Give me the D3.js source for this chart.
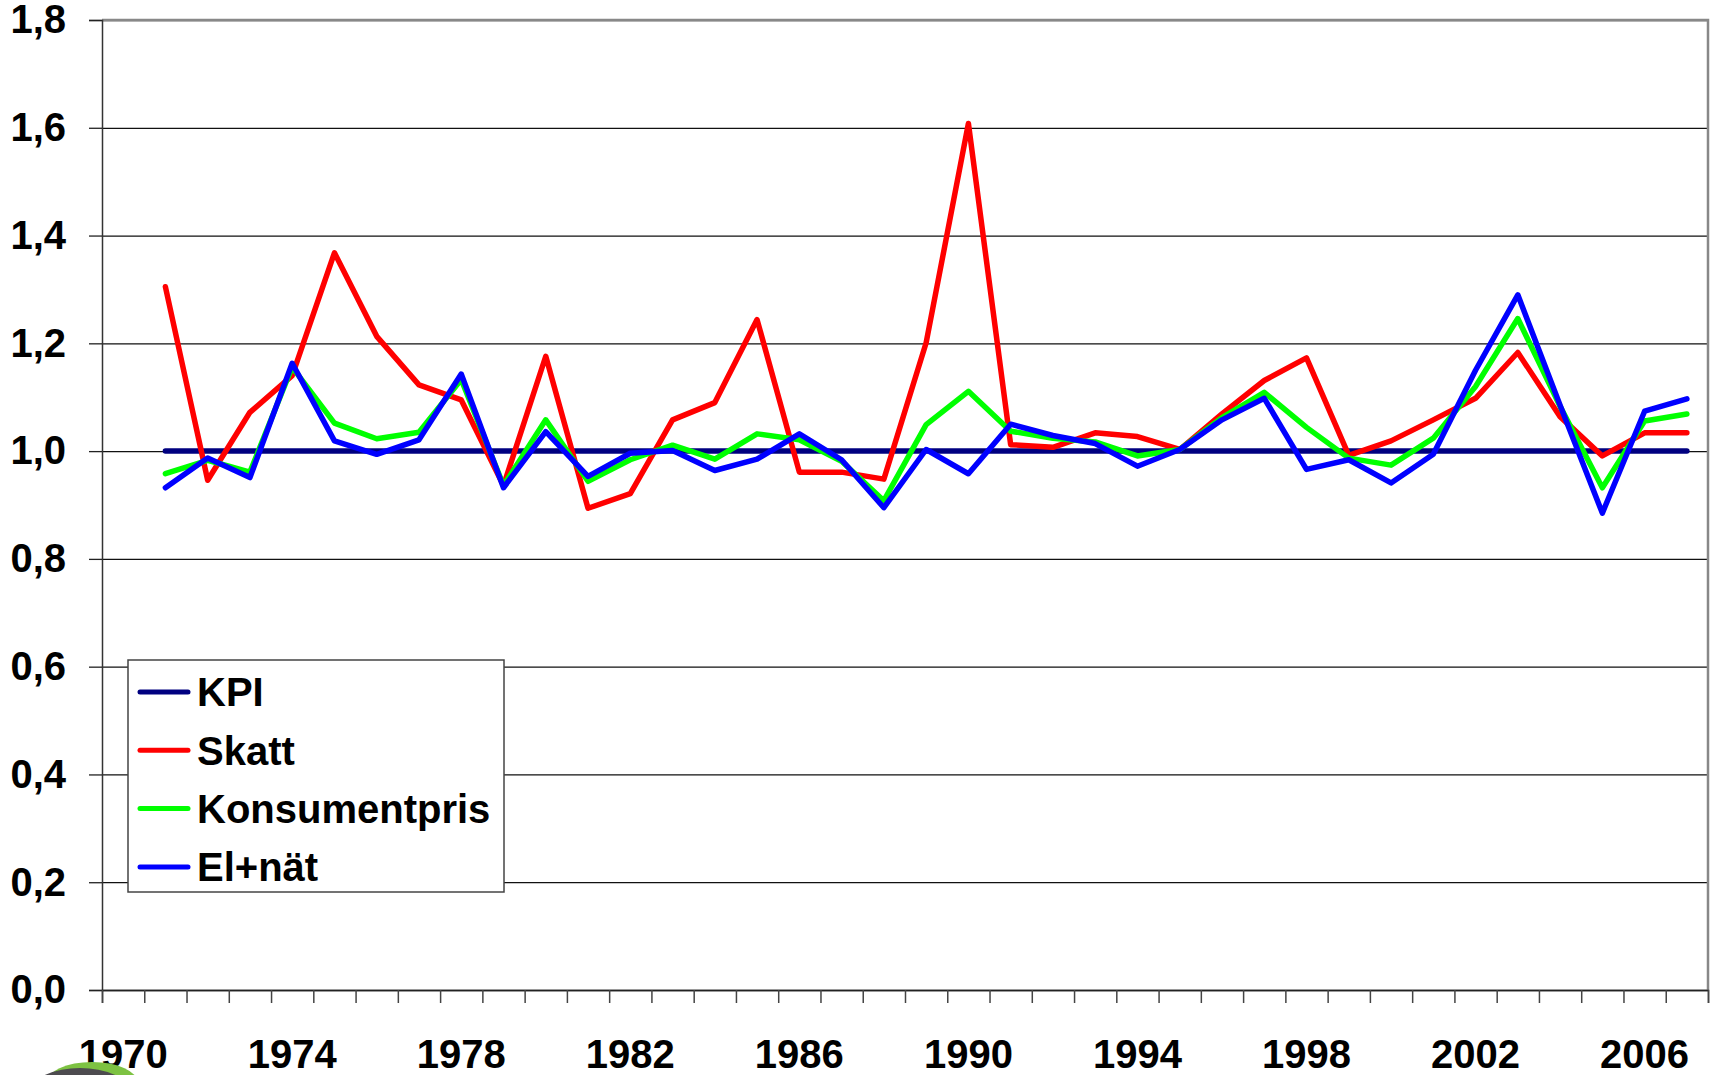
<!DOCTYPE html>
<html>
<head>
<meta charset="utf-8">
<script src="https://cdn.jsdelivr.net/npm/d3@7"></script>
<style>
  body { margin: 0; background: #fff; }
  text { font-family: "Liberation Sans", Arial, sans-serif; font-weight: bold; }
</style>
</head>
<body>
<div id="chart"></div>
<script>

// data, one value per year 1971-2007
var years = d3.range(1971, 2008)
var kpi = years.map(function() { return 1.0; })
var skatt = [1.305, 0.946, 1.072, 1.14, 1.368, 1.213, 1.123, 1.095, 0.936, 1.176,
             0.894, 0.921, 1.058, 1.09, 1.244, 0.961, 0.961, 0.948, 1.201, 1.608,
             1.012, 1.007, 1.034, 1.027, 1.003, 1.069, 1.131, 1.173, 0.992, 1.019,
             1.058, 1.098, 1.183, 1.064, 0.991, 1.034, 1.034]
var konsumentpris = [0.958, 0.983, 0.961, 1.156, 1.052, 1.023, 1.035, 1.133, 0.936, 1.058,
             0.944, 0.984, 1.011, 0.985, 1.032, 1.021, 0.981, 0.908, 1.049, 1.111,
             1.037, 1.024, 1.017, 0.991, 1.003, 1.062, 1.109, 1.044, 0.987, 0.974,
             1.024, 1.12, 1.246, 1.083, 0.932, 1.056, 1.069]
var elnat = [0.932, 0.987, 0.951, 1.163, 1.019, 0.994, 1.021, 1.143, 0.932, 1.036,
             0.953, 0.996, 1.001, 0.964, 0.985, 1.032, 0.984, 0.895, 1.003, 0.958,
             1.05, 1.029, 1.014, 0.972, 1.003, 1.058, 1.098, 0.966, 0.984, 0.941,
             0.994, 1.15, 1.29, 1.085, 0.885, 1.074, 1.097]

var categories = d3.range(1970, 2008)
var yearLabels = [1970, 1974, 1978, 1982, 1986, 1990, 1994, 1998, 2002, 2006]
var yTicks = [0, 0.2, 0.4, 0.6, 0.8, 1.0, 1.2, 1.4, 1.6, 1.8]

var series = [
  {name: "KPI", values: kpi, color: "#000080"},
  {name: "Skatt", values: skatt, color: "#ff0000"},
  {name: "Konsumentpris", values: konsumentpris, color: "#00ff00"},
  {name: "El+nät", values: elnat, color: "#0000ff"}
]

// set the dimensions and margins of the graph
var W = 1711, H = 1075
var margin = {top: 20, right: 3, left: 102},
    width = W - margin.left - margin.right,
    height = 970;

var svg = d3.select("#chart")
  .append("svg")
    .attr("width", W)
    .attr("height", H)

// scales
var x = d3.scaleBand()
  .domain(categories)
  .range([margin.left, margin.left + width])
  .padding(0)

var xEdge = d3.scaleLinear()
  .domain([1970, 2008])
  .range([margin.left, margin.left + width])

var y = d3.scaleLinear()
  .domain([0, 1.8])
  .range([margin.top + height, margin.top])

var fmt = function(d) { return d3.format(".1f")(d).replace(".", ","); }

// gridlines
svg.append("g")
  .attr("transform", "translate(" + margin.left + ",0)")
  .call(d3.axisLeft(y).tickValues(yTicks).tickSize(-width).tickFormat(""))
  .call(function(g) { g.select(".domain").remove() })
  .selectAll("line")
    .attr("stroke", "#111")
    .attr("stroke-width", 1.3)

// plot border (top / right in grey)
svg.append("path")
  .attr("d", "M" + margin.left + "," + y(1.8) + "H" + (margin.left + width) + "V" + y(0))
  .attr("fill", "none")
  .attr("stroke", "#888")
  .attr("stroke-width", 2.5)

// Y axis
var yAxis = svg.append("g")
  .attr("transform", "translate(" + margin.left + ",0)")
  .call(d3.axisLeft(y).tickValues(yTicks).tickSize(13).tickPadding(23).tickFormat(fmt))
yAxis.select(".domain").attr("stroke", "#333").attr("stroke-width", 1.5)
yAxis.selectAll("line").attr("stroke", "#222").attr("stroke-width", 1.3)
yAxis.selectAll("text")
  .style("font-size", "40px")
  .attr("fill", "#000")

// X axis: ticks on the category edges
var xAxis = svg.append("g")
  .attr("transform", "translate(0," + y(0) + ")")
  .call(d3.axisBottom(xEdge).tickValues(d3.range(1970, 2009)).tickSize(13).tickFormat(""))
xAxis.select(".domain").attr("stroke", "#222").attr("stroke-width", 1.5)
xAxis.selectAll("line").attr("stroke", "#444").attr("stroke-width", 1.5)

// X labels centred in their category
var xLab = svg.append("g")
  .attr("transform", "translate(0," + y(0) + ")")
  .call(d3.axisBottom(x).tickValues(yearLabels).tickSize(0).tickPadding(50))
xLab.select(".domain").remove()
xLab.selectAll("text")
  .style("font-size", "40px")
  .attr("fill", "#000")

// lines
var line = d3.line()
  .x(function(d, i) { return x(years[i]) + x.bandwidth() / 2; })
  .y(function(d) { return y(d); })

svg.selectAll(".serie")
  .data(series)
  .enter()
  .append("path")
    .attr("class", "serie")
    .attr("d", function(d) { return line(d.values); })
    .attr("fill", "none")
    .attr("stroke", function(d) { return d.color; })
    .attr("stroke-width", 5.5)
    .attr("stroke-linejoin", "round")
    .attr("stroke-linecap", "round")

// legend
var legend = svg.append("g")
  .attr("transform", "translate(128,660)")

legend.append("rect")
  .attr("width", 376)
  .attr("height", 232)
  .attr("fill", "#fff")
  .attr("stroke", "#444")
  .attr("stroke-width", 1.5)

var items = legend.selectAll(".item")
  .data(series)
  .enter()
  .append("g")
    .attr("class", "item")
    .attr("transform", function(d, i) { return "translate(0," + (32 + i * 58.3) + ")"; })

items.append("line")
  .attr("x1", 12)
  .attr("x2", 60)
  .attr("stroke", function(d) { return d.color; })
  .attr("stroke-width", 5)
  .attr("stroke-linecap", "round")

items.append("text")
  .attr("x", 69)
  .attr("dy", "0.36em")
  .style("font-size", "40px")
  .text(function(d) { return d.name; })

// logo fragment at the bottom left corner
var logo = svg.append("g")
logo.append("ellipse")
  .attr("cx", 92).attr("cy", 1083).attr("rx", 46).attr("ry", 21)
  .attr("fill", "#7dc242")
logo.append("ellipse")
  .attr("cx", 80).attr("cy", 1090).attr("rx", 48).attr("ry", 22)
  .attr("fill", "#4d4b4f")

</script>
</body>
</html>
